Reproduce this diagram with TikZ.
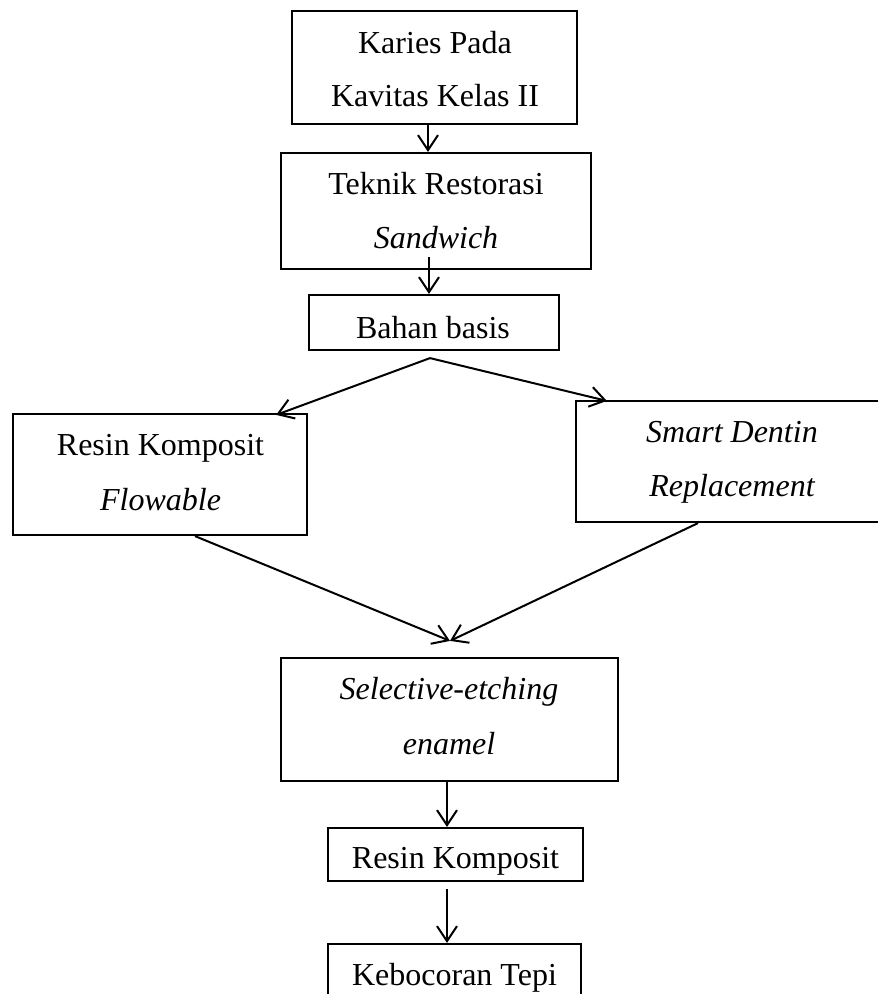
\documentclass[tikz,border=0pt]{standalone}
\usepackage{fontspec}
\setmainfont{Liberation Serif}
\usetikzlibrary{arrows.meta}
\begin{document}
\begin{tikzpicture}[x=1pt,y=-1pt,
  box/.style={draw, line width=2.2pt, inner sep=0pt, fill=none},
  txt/.style={font=\fontsize{32}{53}\selectfont, anchor=base, inner sep=0pt},
  arr/.style={line width=2pt, -{Straight Barb[length=15pt, width=20pt, line width=2pt]}}]
\useasboundingbox (0,0) rectangle (878,994);
\clip (0,0) rectangle (878,994);
% boxes
\node[box, minimum width=285pt, minimum height=113pt] (b1) at (434.5,67.5) {};
\node[box, minimum width=310pt, minimum height=116pt] (b2) at (436,211) {};
\node[box, minimum width=250pt, minimum height=55pt] (b3) at (434,322.5) {};
\node[box, minimum width=294pt, minimum height=121pt] (b4) at (160,474.5) {};
\node[box, minimum width=312pt, minimum height=121pt] (b5) at (732,461.5) {};
\node[box, minimum width=337pt, minimum height=123pt] (b6) at (449.5,719.5) {};
\node[box, minimum width=255pt, minimum height=53pt] (b7) at (455.5,854.5) {};
\node[box, minimum width=253pt, minimum height=60pt] (b8) at (454.5,974) {};
% texts
\node[txt] (t1a) at (435,53) {Karies Pada};
\node[txt] (t1b) at (435,106) {Kavitas Kelas II};
\node[txt] (t2a) at (436,194) {Teknik Restorasi};
\node[txt] (t2b) at (436,248) {\itshape Sandwich};
\node[txt] (t3) at (433,338) {Bahan basis};
\node[txt] (t4a) at (160.5,455) {Resin Komposit};
\node[txt] (t4b) at (160.5,510) {\itshape Flowable};
\node[txt] (t5a) at (732,442) {\itshape Smart Dentin};
\node[txt] (t5b) at (732,496) {\itshape Replacement};
\node[txt] (t6a) at (449,699) {\itshape Selective-etching};
\node[txt] (t6b) at (449,754) {\itshape enamel};
\node[txt] (t7) at (455.5,868) {Resin Komposit};
\node[txt] (t8) at (454.5,985) {Kebocoran Tepi};
% connectors
\draw[arr] ([xshift=-6.5pt]b1.south) -- ([xshift=-6.5pt]b1.south |- b2.north);
\coordinate (s2) at ([xshift=-7pt, yshift=13pt]b2.south);
\draw[arr] (s2) -- (s2 |- b3.north);
\coordinate (ap) at ([xshift=-4pt, yshift=-7pt]b3.south);
\draw[arr] (ap) -- ([xshift=-32pt, yshift=-2pt]b4.north east);
\draw[arr] (ap) -- ([xshift=32pt, yshift=-1pt]b5.north west);
\coordinate (m6) at ([xshift=0.5pt, yshift=16pt]b6.north);
\draw[arr] ([xshift=35pt]b4.south) -- (m6);
\draw[arr] ([xshift=-34pt]b5.south) -- (m6);
\draw[arr] ([xshift=-2.5pt]b6.south) -- ([xshift=-2.5pt]b6.south |- b7.north);
\coordinate (s7) at ([xshift=-8.5pt, yshift=-7pt]b7.south);
\draw[arr] (s7) -- (s7 |- b8.north);
\end{tikzpicture}
\end{document}
